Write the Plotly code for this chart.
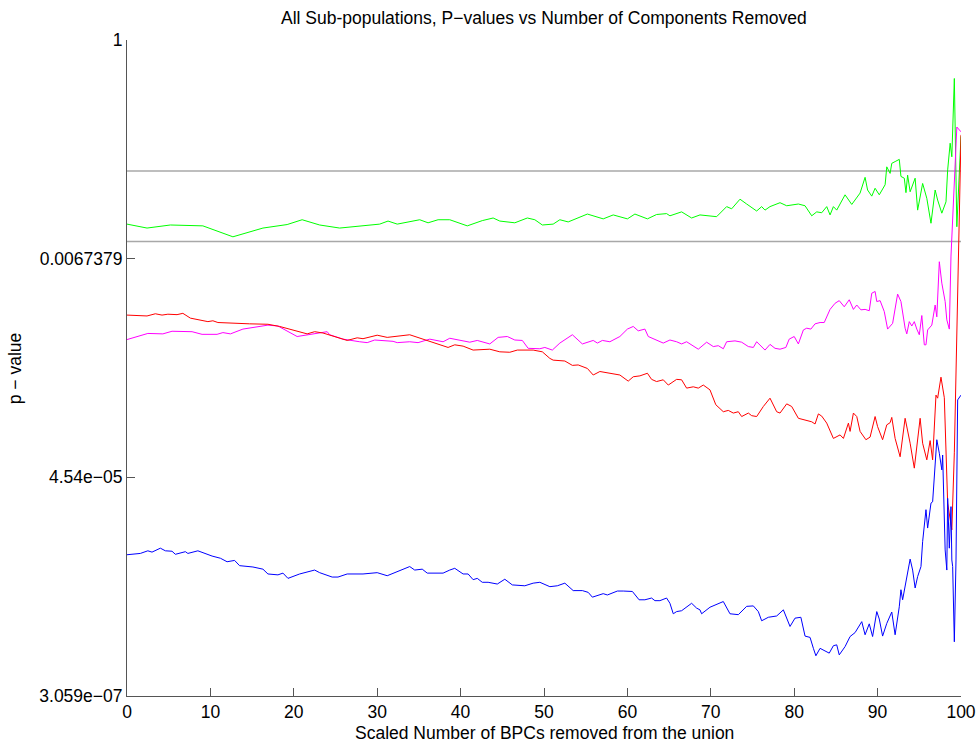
import numpy as np
import plotly.graph_objects as go

# (scaled number of BPCs removed, natural log of p-value) for each sub-population
green_pts = [
    (0, -4.21), (2.4, -4.30), (5.2, -4.23), (9.1, -4.25), (12.7, -4.50), (16.3, -4.30),
    (19.2, -4.22), (21.0, -4.11), (23.1, -4.23), (25.5, -4.30), (30.3, -4.21), (31.3, -4.14),
    (32.4, -4.21), (33.6, -4.16), (35.1, -4.11), (36.1, -4.18), (37.3, -4.11), (38.7, -4.11),
    (40.8, -4.25), (42.6, -4.13), (43.9, -4.07), (44.7, -4.14), (46.5, -4.18), (48.0, -4.07),
    (48.9, -4.11), (49.8, -4.23), (51.1, -4.21), (51.9, -4.11), (52.9, -4.16), (55.2, -3.98),
    (57.1, -4.09), (58.3, -4.00), (60.0, -4.09), (60.9, -3.98), (62.4, -4.09), (63.5, -3.99),
    (64.7, -3.97), (65.1, -4.02), (66.5, -3.93), (67.7, -4.07), (68.7, -4.00), (70.7, -4.04),
    (71.9, -3.81), (72.5, -3.86), (73.5, -3.64), (74.3, -3.75), (75.5, -3.91), (76.1, -3.81),
    (76.5, -3.89), (77.1, -3.81), (78.3, -3.72), (79.1, -3.79), (80.5, -3.75), (81.3, -3.79),
    (82.1, -4.02), (82.7, -3.93), (83.3, -3.95), (83.9, -3.81), (84.3, -4.00), (84.7, -3.81),
    (85.1, -3.89), (86.1, -3.54), (86.9, -3.76), (87.9, -3.50), (88.5, -3.14), (88.8, -3.43),
    (89.3, -3.57), (89.7, -3.39), (90.2, -3.54), (90.9, -3.31), (91.1, -2.90), (91.5, -3.05),
    (91.7, -2.82), (92.1, -2.78), (92.6, -2.73), (92.8, -3.12), (93.2, -3.16), (93.4, -3.49),
    (93.6, -3.09), (93.9, -3.47), (94.5, -3.16), (94.8, -3.89), (95.4, -3.28), (95.9, -3.62),
    (96.4, -4.19), (96.9, -3.43), (97.2, -3.66), (97.7, -3.96), (98.2, -3.70), (98.4, -2.97),
    (98.7, -2.36), (98.9, -2.67), (99.2, -0.88), (99.5, -4.27), (99.8, -2.97), (100, -2.20),
]

magenta_pts = [
    (0, -6.85), (2.5, -6.71), (4.3, -6.72), (5.4, -6.66), (7.8, -6.67), (9.0, -6.73),
    (10.8, -6.73), (11.5, -6.69), (12.4, -6.72), (13.9, -6.61), (16.9, -6.52), (18.1, -6.54),
    (20.4, -6.78), (22.3, -6.73), (24.0, -6.67), (24.3, -6.74), (25.9, -6.84), (27.9, -6.90),
    (28.8, -6.92), (29.7, -6.86), (31.9, -6.89), (32.4, -6.92), (33.9, -6.90), (34.9, -6.92),
    (36.3, -6.84), (37.9, -6.90), (38.7, -6.82), (41.1, -6.91), (42.0, -6.87), (43.5, -6.95),
    (44.5, -6.80), (45.6, -6.78), (46.5, -6.86), (47.4, -6.87), (48.1, -7.05), (49.5, -7.06),
    (50.1, -7.03), (51.0, -7.09), (51.9, -6.93), (53.4, -6.74), (54.6, -6.95), (55.9, -6.87),
    (56.4, -6.93), (57.0, -6.87), (57.9, -6.90), (59.1, -6.78), (60.0, -6.61), (60.7, -6.55),
    (61.3, -6.65), (62.1, -6.61), (62.5, -6.78), (64.3, -6.93), (65.1, -6.86), (65.9, -6.90),
    (66.5, -6.95), (67.1, -6.90), (67.7, -6.97), (68.5, -7.07), (69.5, -6.91), (70.3, -7.01),
    (70.9, -6.99), (71.5, -7.06), (71.9, -6.90), (72.9, -6.88), (73.7, -6.91), (74.5, -7.01),
    (75.1, -7.03), (75.5, -6.90), (76.5, -7.09), (77.1, -6.96), (77.7, -7.05), (78.3, -7.07),
    (79.0, -7.03), (79.4, -6.84), (80.0, -6.78), (80.5, -6.95), (81.1, -6.63), (81.5, -6.59),
    (82.0, -6.61), (82.5, -6.49), (83.1, -6.46), (83.6, -6.46), (84.3, -6.16), (84.9, -6.02),
    (85.4, -5.96), (86.0, -6.10), (86.6, -5.94), (87.1, -6.16), (87.5, -6.06), (88.0, -6.17),
    (88.5, -6.16), (89.0, -6.19), (89.3, -5.79), (89.7, -5.75), (89.9, -5.98), (90.3, -5.96),
    (90.8, -6.21), (91.2, -6.61), (91.8, -6.48), (92.4, -5.81), (92.8, -5.98), (93.3, -6.59),
    (93.5, -6.72), (93.8, -6.44), (94.1, -6.54), (94.4, -6.44), (94.7, -6.61), (95.0, -6.74),
    (95.3, -6.30), (95.6, -6.97), (95.8, -6.97), (96.0, -6.63), (96.5, -6.52), (96.9, -6.06),
    (97.1, -6.33), (97.4, -5.07), (97.7, -5.56), (98.1, -5.98), (98.3, -6.40), (98.6, -6.61),
    (98.8, -4.94), (99.5, -1.99), (100, -2.10),
]

red_pts = [
    (0, -6.29), (2.4, -6.31), (3.4, -6.26), (4.2, -6.29), (4.9, -6.27), (6.0, -6.28),
    (6.7, -6.25), (7.6, -6.36), (9.7, -6.44), (10.3, -6.42), (10.9, -6.46), (11.8, -6.47),
    (13.9, -6.48), (14.7, -6.49), (16.9, -6.50), (18.3, -6.55), (21.6, -6.72), (22.5, -6.67),
    (23.5, -6.70), (24.7, -6.77), (26.4, -6.87), (27.6, -6.81), (28.3, -6.83), (30.0, -6.75),
    (31.2, -6.80), (33.9, -6.74), (35.1, -6.82), (35.5, -6.84), (37.2, -6.95), (38.5, -7.03),
    (39.3, -6.97), (40.3, -7.00), (41.5, -7.09), (43.5, -7.07), (44.7, -7.13), (45.9, -7.14),
    (46.8, -7.09), (48.7, -7.09), (49.8, -7.13), (50.7, -7.28), (51.1, -7.32), (52.5, -7.34),
    (53.4, -7.44), (54.1, -7.43), (55.2, -7.51), (55.9, -7.66), (56.7, -7.58), (57.9, -7.62),
    (59.1, -7.66), (60.1, -7.80), (60.7, -7.70), (61.5, -7.68), (62.4, -7.62), (62.9, -7.76),
    (63.5, -7.81), (64.3, -7.77), (64.9, -7.89), (65.9, -7.76), (66.5, -7.77), (67.1, -7.96),
    (67.9, -7.93), (68.5, -7.96), (69.1, -7.89), (69.9, -8.00), (70.6, -8.34), (71.5, -8.50),
    (72.1, -8.47), (72.7, -8.53), (73.3, -8.50), (73.7, -8.61), (74.5, -8.53), (74.9, -8.59),
    (75.5, -8.61), (76.3, -8.38), (77.1, -8.19), (77.9, -8.50), (78.3, -8.53), (79.1, -8.32),
    (79.7, -8.38), (80.5, -8.65), (81.3, -8.69), (82.1, -8.73), (82.5, -8.78), (82.9, -8.55),
    (83.3, -8.60), (83.9, -8.76), (84.7, -9.11), (85.5, -9.03), (85.9, -9.11), (86.5, -8.76),
    (86.7, -8.95), (87.1, -8.53), (87.5, -8.61), (87.9, -8.95), (88.6, -9.14), (89.1, -9.08),
    (89.7, -8.61), (90.0, -8.84), (90.6, -9.14), (91.1, -8.80), (91.5, -8.75), (91.7, -8.63),
    (92.1, -9.11), (92.7, -9.53), (93.3, -8.65), (93.9, -9.22), (94.4, -9.79), (95.1, -8.65),
    (95.4, -9.22), (95.9, -9.60), (96.3, -9.16), (96.6, -9.60), (97.0, -8.12), (97.2, -8.19),
    (97.6, -7.71), (98.0, -8.18), (98.4, -10.59), (98.9, -11.20), (99.2, -9.44), (99.5, -6.47),
    (99.8, -4.30), (100, -2.17),
]

blue_pts = [
    (0, -11.77), (1.6, -11.74), (2.5, -11.68), (3.0, -11.71), (4.0, -11.62), (4.6, -11.68),
    (5.4, -11.69), (5.8, -11.76), (7.0, -11.70), (7.3, -11.74), (8.5, -11.68), (9.4, -11.75),
    (10.2, -11.80), (11.2, -11.85), (12.0, -11.93), (12.9, -11.90), (13.5, -12.02), (15.1, -12.05),
    (16.3, -12.10), (16.9, -12.21), (18.1, -12.23), (18.7, -12.19), (19.3, -12.31), (20.7, -12.21),
    (22.5, -12.12), (23.1, -12.18), (24.6, -12.28), (25.3, -12.28), (26.4, -12.21), (28.3, -12.21),
    (30.0, -12.18), (31.2, -12.25), (32.4, -12.15), (33.9, -12.04), (34.5, -12.12), (35.4, -12.10),
    (36.0, -12.19), (37.9, -12.19), (38.7, -12.12), (39.3, -12.08), (40.3, -12.21), (40.9, -12.21),
    (41.5, -12.34), (42.0, -12.31), (42.6, -12.40), (43.3, -12.40), (44.4, -12.44), (45.3, -12.33),
    (46.2, -12.46), (47.7, -12.48), (48.7, -12.42), (49.5, -12.40), (50.7, -12.50), (51.6, -12.48),
    (52.5, -12.42), (53.5, -12.59), (54.6, -12.59), (55.3, -12.63), (55.8, -12.74), (56.7, -12.69),
    (57.1, -12.66), (57.6, -12.69), (58.8, -12.60), (59.5, -12.60), (60.0, -12.61), (60.6, -12.61),
    (61.4, -12.80), (62.1, -12.80), (62.9, -12.76), (63.3, -12.82), (63.9, -12.82), (64.7, -12.76),
    (65.1, -12.88), (65.5, -13.12), (65.9, -13.07), (66.5, -13.05), (67.7, -12.88), (68.3, -12.99),
    (68.7, -13.03), (68.9, -13.12), (69.9, -12.97), (71.5, -12.84), (72.3, -13.12), (73.3, -13.14),
    (74.3, -12.95), (75.1, -12.94), (75.7, -13.07), (76.1, -13.28), (76.9, -13.20), (77.9, -13.17),
    (78.7, -13.03), (79.5, -13.41), (80.1, -13.22), (80.8, -13.20), (81.3, -13.63), (81.9, -13.66),
    (82.3, -13.91), (82.6, -14.08), (83.1, -13.91), (83.7, -13.96), (84.2, -14.02), (84.7, -13.85),
    (85.1, -13.83), (85.4, -14.06), (86.1, -13.87), (86.7, -13.64), (87.3, -13.55), (88.1, -13.30),
    (88.5, -13.60), (89.0, -13.35), (89.4, -13.64), (89.9, -13.07), (90.2, -13.24), (90.6, -13.63),
    (91.1, -13.34), (91.7, -13.08), (92.1, -13.60), (92.6, -12.96), (92.8, -12.57), (93.0, -12.80),
    (93.5, -12.27), (93.9, -11.87), (94.2, -12.12), (94.5, -12.53), (94.8, -12.27), (95.2, -12.04),
    (95.4, -11.47), (95.8, -10.74), (96.0, -11.16), (96.4, -10.59), (96.6, -10.56), (96.9, -9.60),
    (97.1, -9.14), (97.4, -9.45), (97.7, -9.83), (97.8, -9.49), (98.1, -11.66), (98.3, -12.12),
    (98.4, -10.48), (98.6, -11.62), (98.8, -10.67), (98.9, -11.89), (99.0, -12.04), (99.2, -13.76),
    (99.4, -11.89), (99.6, -8.23), (100, -8.12),
]

series = [
    ("#00ff00", green_pts),
    ("#ff00ff", magenta_pts),
    ("#ff0000", red_pts),
    ("#0000ff", blue_pts),
]

# significance thresholds drawn as horizontal reference lines
thresholds = [0.05, 0.01]

# y ticks sit at e^0, e^-5, e^-10, e^-15
y_tick_vals = [1, 0.0067379, 4.54e-05, 3.059e-07]
y_tick_text = ["1", "0.0067379", "4.54e\u221205", "3.059e\u221207"]
x_tick_vals = list(range(0, 101, 10))

FONT = "Liberation Sans, Arial, Helvetica, sans-serif"
FSIZE = 17.5

fig = go.Figure()

for thr in thresholds:
    fig.add_trace(go.Scatter(
        x=[0, 100], y=[thr, thr], mode="lines",
        line=dict(color="#a8a8a8", width=1.5), showlegend=False, hoverinfo="skip",
    ))

for color, pts in series:
    xs = [p[0] for p in pts]
    ps = np.exp([p[1] for p in pts])
    fig.add_trace(go.Scatter(
        x=xs, y=ps, mode="lines",
        line=dict(color=color, width=1), showlegend=False,
    ))

axis_common = dict(
    showline=True, linecolor="#555555", linewidth=1,
    ticks="inside", ticklen=8, tickcolor="#555555", tickwidth=1,
    showgrid=False, zeroline=False, automargin=False,
    tickfont=dict(family=FONT, size=FSIZE, color="black"),
)

fig.update_xaxes(range=[0, 100], tickvals=x_tick_vals, **axis_common)
fig.update_yaxes(
    type="log", range=[np.log10(3.059e-07), 0],
    tickvals=y_tick_vals, ticktext=y_tick_text, **axis_common,
)

fig.update_layout(
    width=977, height=745,
    margin=dict(l=127, r=16, t=40, b=49),
    plot_bgcolor="white", paper_bgcolor="white",
    font=dict(family=FONT, size=FSIZE, color="black"),
    annotations=[
        dict(text="All Sub-populations, P\u2212values vs Number of Components Removed",
             xref="paper", yref="paper", x=0.5, y=1.0335, xanchor="center", yanchor="middle",
             showarrow=False, font=dict(family=FONT, size=FSIZE)),
        dict(text="Scaled Number of BPCs removed from the union",
             xref="paper", yref="paper", x=0.5, y=-0.0564, xanchor="center", yanchor="middle",
             showarrow=False, font=dict(family=FONT, size=FSIZE)),
        dict(text="p \u2212 value", textangle=-90,
             xref="paper", yref="paper", x=-0.134, y=0.5, xanchor="center", yanchor="middle",
             showarrow=False, font=dict(family=FONT, size=FSIZE)),
    ],
)

fig.write_html("out.html")
